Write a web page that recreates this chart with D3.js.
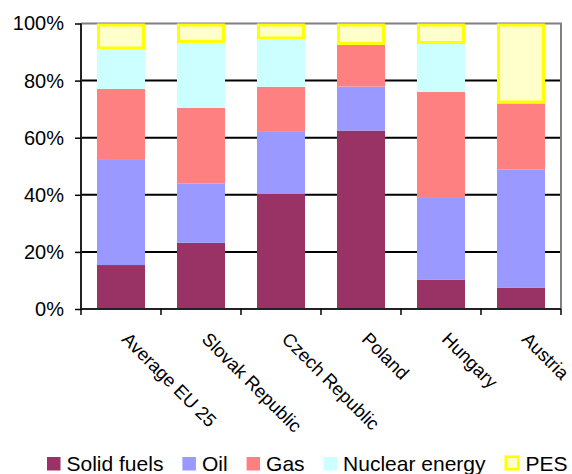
<!DOCTYPE html>
<html>
<head>
<meta charset="utf-8">
<script src="https://cdn.jsdelivr.net/npm/d3@7"></script>
<style>
  html, body { margin: 0; padding: 0; background: #fff; }
  svg { display: block; font-family: "Liberation Sans", Arial, sans-serif; }
</style>
</head>
<body>
<svg id="chart" width="572" height="474"></svg>
<script>
// Energy mix by country, shares of primary energy supply
const categories = ["Average EU 25", "Slovak Republic", "Czech Republic", "Poland", "Hungary", "Austria"];
const seriesNames = ["Solid fuels", "Oil", "Gas", "Nuclear energy", "PES"];
const solidFuels = [15.4, 23.2, 40.4, 62.5, 10.2, 7.5];
const oil        = [37.1, 20.7, 21.9, 15.4, 29.0, 41.3];
const gas        = [24.6, 26.6, 15.5, 14.6, 36.8, 23.2];
const nuclear    = [13.8, 22.7, 16.6,  0.0, 16.8,  0.0];
const pes        = [ 9.1,  6.8,  5.6,  7.5,  7.2, 28.0];
const yTicks = [0, 20, 40, 60, 80, 100];
const yTickLabels = ["0%", "20%", "40%", "60%", "80%", "100%"];

const fills   = ["#993366", "#9999FF", "#FF8080", "#CCFFFF", "#FFFFCC"];
const strokes = [null, null, null, null, "#FFFF00"];

const rows = categories.map((c, i) => ({
  category: c,
  "Solid fuels": solidFuels[i],
  "Oil": oil[i],
  "Gas": gas[i],
  "Nuclear energy": nuclear[i],
  "PES": pes[i]
}));
const stacked = d3.stack().keys(seriesNames)(rows);

const svg = d3.select("#chart");
const plotLeft = 81, plotRight = 561, plotTop = 23.5, plotBottom = 309;

const x = d3.scaleBand().domain(categories).range([plotLeft, plotRight])
  .paddingInner(0.4).paddingOuter(0.2);
const y = d3.scaleLinear().domain([0, 100]).range([plotBottom, plotTop]);

// horizontal gridlines
svg.append("g").selectAll("line")
  .data(yTicks.filter(t => t > 0 && t < 100))
  .join("line")
  .attr("x1", plotLeft).attr("x2", plotRight)
  .attr("y1", d => y(d)).attr("y2", d => y(d))
  .attr("stroke", "#000").attr("stroke-width", 2);

// plot area border (top and right)
svg.append("path")
  .attr("d", `M${plotLeft},${y(100)}H${plotRight}V${plotBottom}`)
  .attr("fill", "none").attr("stroke", "#808080").attr("stroke-width", 2);

// stacked bars
const layers = svg.append("g").selectAll("g")
  .data(stacked)
  .join("g");

layers.each(function(layer, li) {
  const g = d3.select(this);
  const sw = strokes[li] ? 3 : 0;
  g.selectAll("rect")
    .data(layer.filter(d => d[1] - d[0] > 0))
    .join("rect")
    .attr("x", d => x(d.data.category) + sw / 2)
    .attr("width", x.bandwidth() - sw)
    .attr("y", d => y(d[1]) + sw / 2)
    .attr("height", d => y(d[0]) - y(d[1]) - sw)
    .attr("fill", fills[li])
    .attr("stroke", strokes[li] || "none")
    .attr("stroke-width", sw);
});

// y axis
const yAxis = svg.append("g").attr("transform", `translate(${plotLeft},0)`)
  .call(d3.axisLeft(y).tickValues(yTicks)
    .tickFormat((d, i) => yTickLabels[i]).tickSize(6).tickPadding(11));
yAxis.select(".domain").attr("stroke", "#222").attr("stroke-width", 2)
  .attr("d", `M0,${y(100)}V${plotBottom}`);
yAxis.selectAll(".tick line").attr("stroke", "#000").attr("stroke-width", 1.5);
yAxis.selectAll(".tick text").attr("font-size", 20).attr("fill", "#000")
  .attr("font-family", "Liberation Sans, Arial, sans-serif");

// x axis
const xAxis = svg.append("g").attr("transform", `translate(0,${plotBottom})`);
xAxis.append("line").attr("x1", plotLeft).attr("x2", plotRight)
  .attr("stroke", "#222").attr("stroke-width", 2);
const bounds = categories.map(c => x(c) - x.step() * x.paddingInner() / 2);
bounds.push(plotRight);
xAxis.selectAll("line.tk").data(bounds).join("line").attr("class", "tk")
  .attr("x1", d => d).attr("x2", d => d).attr("y1", 0).attr("y2", 6)
  .attr("stroke", "#000").attr("stroke-width", 1.5);

svg.append("g").selectAll("text")
  .data(categories)
  .join("text")
  .attr("transform", d => `translate(${x(d) + x.bandwidth() / 2 + 9},${plotBottom + 22}) rotate(45)`)
  .attr("dy", "0.71em")
  .attr("font-size", 18.4)
  .attr("fill", "#000")
  .text(d => d);

// legend
const legend = svg.append("g");
let lx = 47;
seriesNames.forEach((name, i) => {
  const sw = strokes[i] ? 2.5 : 0;
  const box = strokes[i] ? 15 : 13.5;
  legend.append("rect")
    .attr("x", lx + sw / 2).attr("y", 470.5 - box + sw / 2)
    .attr("width", box - sw).attr("height", box - sw)
    .attr("fill", fills[i])
    .attr("stroke", strokes[i] || "none").attr("stroke-width", sw);
  const t = legend.append("text")
    .attr("x", lx + box + 6).attr("y", 471)
    .attr("font-size", 21).attr("fill", "#000")
    .text(name);
  lx += box + 6 + t.node().getComputedTextLength() + 19;
});
</script>
</body>
</html>
